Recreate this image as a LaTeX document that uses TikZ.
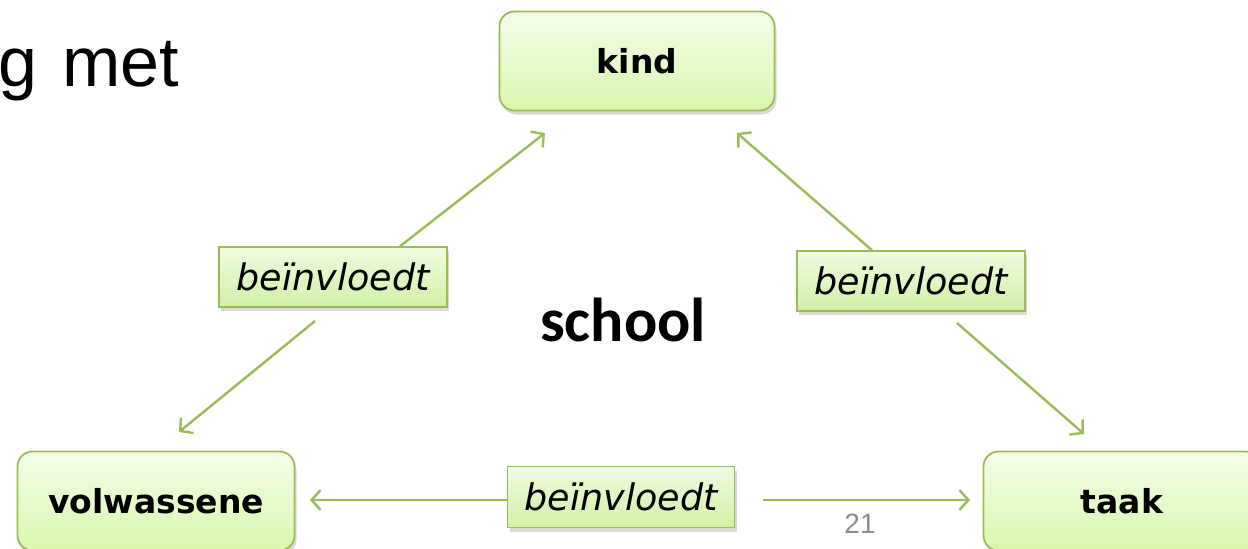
\documentclass[tikz,border=0pt]{standalone}
\usepackage{fontspec}
\setmainfont{DejaVu Sans}
\newfontfamily\arialf{Liberation Sans}
\newfontfamily\calibrif{Carlito}
\usetikzlibrary{arrows.meta,shadows,calc}
\definecolor{gline}{HTML}{9BBB59}
\definecolor{gborder}{HTML}{9BBB59}
\definecolor{gtop}{HTML}{F4FDE9}
\definecolor{gbot}{HTML}{D8F7AE}
\definecolor{ltop}{HTML}{EFFBE0}
\definecolor{lbot}{HTML}{D2F0A6}
\definecolor{numgrey}{HTML}{8C8C8C}
\tikzset{
  bigbox/.style={draw=gborder, line width=1.8pt, rounded corners=15pt,
    top color=gtop, bottom color=gbot,
    minimum width=275pt, minimum height=99pt, inner sep=0pt,
    font=\fontsize{33}{37}\selectfont\bfseries,
    drop shadow={opacity=0.3, shadow xshift=2pt, shadow yshift=-4pt}},
  labbox/.style={draw=gborder, line width=1.5pt,
    top color=ltop, bottom color=lbot,
    minimum width=228pt, minimum height=60pt, inner sep=0pt,
    font=\fontsize{36.5}{40}\selectfont\itshape,
    drop shadow={opacity=0.3, shadow xshift=2pt, shadow yshift=-4pt}},
  arr/.style={draw=gline, line width=2.4pt,
    -{Straight Barb[length=9pt,width=20pt,line width=2.4pt]}}
}
\begin{document}
\begin{tikzpicture}[x=1pt,y=-1pt]
\useasboundingbox (0,0) rectangle (1248,549);
% title fragment and page number
\node[font=\arialf\fontsize{70}{74}\selectfont, anchor=base east, inner sep=0pt] (title) at (179,86) {g\kern5pt{} met};
\node[font=\arialf\fontsize{28}{32}\selectfont, text=numgrey, inner sep=0pt] (pnum) at (860,524) {21};
\node[font=\calibrif\fontsize{62}{68}\selectfont\bfseries, inner sep=0pt] (school) at (623,320) {school};
% boxes
\node[bigbox] (kind) at (637,61) {kind};
\node[bigbox, minimum width=277pt] (volw) at (156,501) {volwassene};
\node[bigbox, minimum width=277pt] (taak) at (1122,501) {taak};
% labels
\node[labbox] (lab1) at (333,277) {beïnvloedt};
\node[labbox] (lab2) at (911,281) {beïnvloedt};
\node[labbox, minimum width=227pt, minimum height=61pt] (lab3) at (621,497) {beïnvloedt};
% free ends
\coordinate (k1) at (545,133);
\coordinate (k2) at (737,133);
\coordinate (v1) at (179,432);
\coordinate (t1) at (1084,434);
\coordinate (s1) at (315,321);
\coordinate (s2) at (957,323);
\coordinate (s3) at (763,500);
\coordinate (v2) at (310,500);
\coordinate (t2) at (970,500);
% connectors
\draw[arr] ([xshift=67pt]lab1.north) -- (k1);
\draw[arr] (s1) -- (v1);
\draw[arr] ([xshift=-39pt]lab2.north) -- (k2);
\draw[arr] (s2) -- (t1);
\draw[arr] (lab3.west |- v2) -- (v2);
\draw[arr] (s3) -- (t2);
\end{tikzpicture}
\end{document}
